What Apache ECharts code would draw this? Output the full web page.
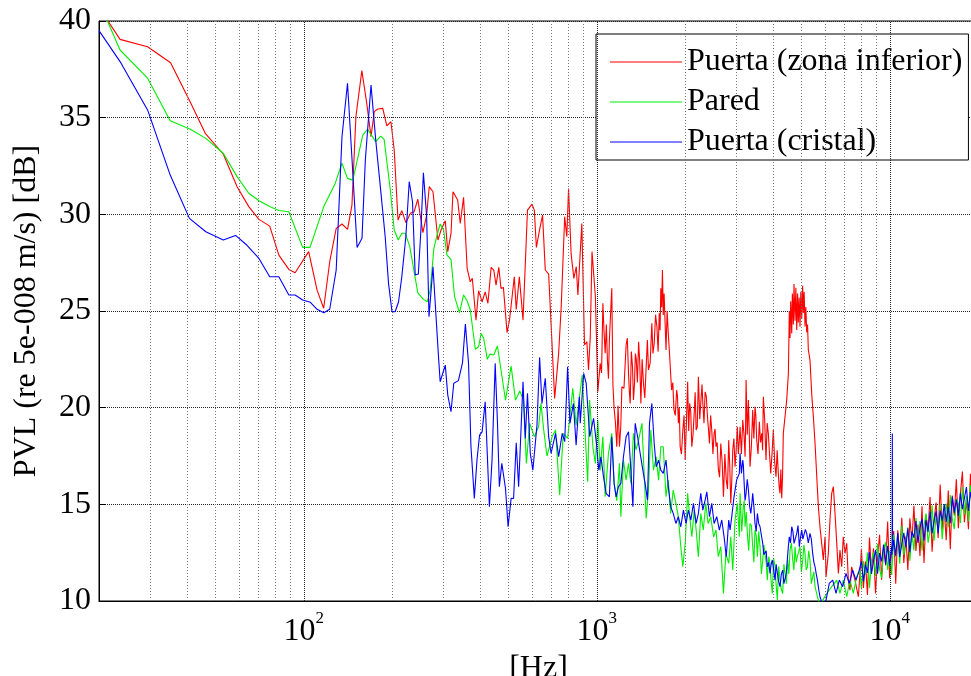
<!DOCTYPE html>
<html>
<head>
<meta charset="utf-8">
<script src="https://cdn.jsdelivr.net/npm/echarts@6/dist/echarts.min.js"></script>
<style>
html,body{margin:0;padding:0;background:#fff;}
#chart{width:971px;height:676px;}
</style>
</head>
<body>
<div id="chart"></div>
<script>
// ---- data (frequency in Hz, level in dB) ----
const seriesNames = ['Puerta (zona inferior)', 'Pared', 'Puerta (cristal)'];
const seriesColors = ['#ff0000', '#00ee00', '#0000ff'];

const redData = [
[20,40.7],[23.6,39.05],[29.3,38.67],[35.1,37.84],[41.0,35.8],[46.1,34.19],[53.1,33.12],[59.2,31.43],[64.9,30.40],[70.3,29.74],[76.5,29.39],[82.2,27.89],[88.9,27.15],[93.4,26.98],
[103.9,28.07],[111,26.08],[116.9,25.14],[122.6,27.55],[129,29.27],[135,29.50],[141,29.22],[146,30.48],[150.6,35.05],[157.8,37.43],[164,35.74],[169.6,34.02],[174,35.31],[178.8,35.45],[186,35.48],[192,34.57],[198.3,34.79],[203.5,33.33],[209.7,29.70],[216,30.19],[223,29.57],[231,30.05],[238,30.14],[245,30.78],[255,29.05],[262.6,29.96],[268,31.43],[276,31.17],[287,28.67],[294,29.19],
[304,29.67],[310,28.07],[318,29.02],[323,31.17],[335,30.74],[342,29.53],[351,30.88],[361,27.21],[370,26.51],[376,26.69],[387,24.53],[395,26.05],[406,25.48],[416,25.99],[425,25.40],[436,27.26],[445,27.12],[453,26.34],[463,27.26],[471,26.17],[480,26.22],[494,23.88],[504,24.57],[514,25.74],[523,26.77],[531,25.08],[544,26.77],[560,24.53],[580,30.22],[601,30.53],[612,30.22],[622,28.29],[636,29.10],[653,29.96],[667,27.12],[685,26.91],[718,20.48],[741,22.81],[756,25.22],[777,29.88],[790,28.84],[801,31.34],[817,27.98],[835,26.69],[851,27.29],[862,25.83],[889,29.53],[908,23.24],[925,23.41],[937,21.95],[950,23.67],
[963,28.07],[975,28.15],[989,25.74],[1008,20.82],[1027,22.29],[1049,25.40],[1068,22.81],[1087,22.46],[1104,23.50],[1125,26.17],[1146,19.96],[1170,17.98],[1195,17.98],[1218,21.08],[1259,23.24],[1283,21.77],[1300,20.22],[1324,22.12],[1345,21.26],[1363,22.55],[1389,23.41],[1414,20.22],[1443,21.26],[1474,22.12],[1501,21.95],[1541,24.36],[1570,23.32],[1604,24.19],[1634,24.88],[1654,26.17],[1675,27.12],[1697,25.91],[1723,22.98],[1754,23.84],[1800,20.91],[1834,19.88],[1873,20.91],[1898,19.19],[1925,17.98],[1966,18.84],[2003,17.29],[2042,21.34],[2075,20.22],[2110,17.98],[2150,19.71],[2183,18.84],[2222,21.60],[2271,20.56],[2301,20.22],[2343,20.82],[2386,19.53],[2424,18.15],[2468,18.84],[2514,18.67],[2552,17.98],[2598,16.86],[2650,18.15],[2706,15.39],[2766,16.25],[2820,18.32],[2866,15.05],[2911,17.81],[2964,16.94],[3017,19.01],[3065,18.32],
[3083,19.01],[3149,19.36],[3207,17.46],[3232,21.43],[3292,20.39],[3334,16.94],[3405,19.88],[3467,20.05],[3514,18.32],[3588,19.27],[3655,18.67],[3702,20.56],[3780,17.29],[3850,18.67],[3923,16.60],[4004,18.84],[4089,16.43],[4164,16.60],[4220,15.57],[4277,15.31],[4331,18.67],[4389,19.53],[4447,20.39],[4507,21.77],
[5341,22.46],[5413,20.74],[5484,19.53],[5558,18.15],[5633,16.43],[5704,14.88],[5777,13.84],[5855,12.98],[5931,12.12],[6012,13.32],[6059,11.25],[6169,12.46],[6249,14.19],[6334,15.57],[6417,15.91],[6503,14.53],[6591,12.98],[6676,11.43],[6760,12.63],[6852,11.77],[6939,13.32],[7033,12.46],[7128,12.98],[7219,11.08],[7312,10.56],[7411,11.77],[7607,11.08],[7810,10.22],[7953,11.94]
];
// dense strokes of the red curve (1-4.3 kHz and the 4.5-5.3 kHz peak)
const redDense = [
[1038,21.8],[1058,24.0],[1078,24.3],[1096,21.5],[1114,24.8],[1135,21.2],[1158,19.2],[1182,20.1],[1207,19.0],[1238,21.0],[1271,23.6],[1292,20.8],[1312,22.9],[1334,20.4],[1354,22.8],[1376,21.3],[1401,22.4],[1428,22.5],[1458,20.5],[1488,23.5],[1521,22.3],[1555,22.8],[1587,24.8],[1619,22.9],[1644,24.0],[1665,25.2],[1686,24.8],[1710,26.0],[1738,25.0],[1777,22.4],[1817,21.3],[1853,19.6],[1885,20.6],[1912,20.0],[1945,17.6],[1985,19.6],[2022,19.2],[2058,18.8],[2092,19.8],[2130,18.6],[2166,20.8],[2202,19.0],[2246,19.4],[2286,21.2],[2322,19.2],[2364,20.6],[2405,18.9],[2446,19.6],[2491,17.6],[2533,18.9],[2575,18.2],[2624,16.4],[2678,17.2],[2736,17.6],[2793,15.8],[2843,17.0],[2888,16.2],[2937,18.4],[2990,17.8],[3041,17.6],
[3116,17.6],[3180,18.6],[3220,19.0],[3262,18.6],[3313,18.8],[3370,18.0],[3436,18.4],[3490,19.6],[3550,17.6],[3620,18.2],[3680,17.8],[3740,19.4],[3815,19.2],[3886,17.6],[3963,17.6],[4046,17.2],[4126,17.8],[4192,15.9],[4248,16.8],[4304,16.4],
[4540,25.0],[4565,23.6],[4590,25.5],[4627,23.84],[4650,25.9],[4686,24.3],[4710,26.4],[4749,24.5],[4780,26.2],[4813,24.02],[4845,25.9],[4874,24.4],[4905,25.7],[4938,24.19],[4970,26.0],[5005,24.6],[5040,26.3],[5068,24.9],[5100,26.0],[5136,24.2],[5170,25.2],[5205,23.9],[5240,24.3],[5271,23.0]
];

const greenData = [
[20,41.0],[23.6,38.5],[29.3,37.04],[35,34.84],[41,34.4],[46.3,33.93],[53.1,33.16],[59.2,31.95],[64.9,31.09],[70.3,30.70],[76.5,30.4],[82.2,30.2],[88.9,30.13],[99.1,28.29],[105,28.29],
[117,30.40],[128,31.60],[135,32.64],[141,31.86],[147,31.77],[159,34.10],[165,34.40],[176,33.76],[183,34.05],[188,33.88],[197.4,31.26],[203.5,29.19],[210,28.67],[216,29.02],[222,29.02],[230,28.33],[245,25.94],[256,25.60],[264,25.48],[270,26.08],[278,28.24],[284,28.84],[292,29.50],[300,29.19],
[308,27.89],[318,27.67],[327,25.74],[340,24.91],[351,25.83],[361,25.53],[370,25.05],[385,23.02],[395,23.15],[403,23.84],[411,23.59],[423,22.50],[432,22.77],[445,22.72],[458,23.19],[471,21.95],[488,20.39],[510,22.15],[528,20.39],[546,20.86],[562,20.39],[575,17.12],[590,19.19],[612,18.50],[633,19.01],[645,20.22],[659,18.84],[676,17.50],[704,18.50],[723,18.84],[747,15.48],[768,18.67],[795,18.41],[828,21.0],[850,19.10],[874,20.65],[892,21.69],[910,19.01],[931,16.17],[945,20.39],
[971,17.89],[989,17.12],[1008,19.36],[1027,16.77],[1049,18.50],[1068,15.39],[1096,17.64],[1125,18.67],[1146,16.07],[1170,15.19],[1195,17.12],[1208,14.36],[1233,17.29],[1259,16.25],[1283,17.12],[1307,16.07],[1334,18.67],[1360,17.81],[1389,18.32],[1426,19.19],[1452,16.43],[1474,14.27],[1501,15.74],[1529,18.84],[1561,16.77],[1595,17.46],[1625,16.25],[1654,17.98],[1686,17.98],[1723,15.39],[1754,16.25],[1787,14.53],[1823,15.74],[1862,15.05],[1898,14.36],[1935,12.81],[1966,11.77],[2003,12.98],[2042,15.57],[2075,14.36],[2110,13.32],[2150,14.70],[2183,13.67],[2222,12.29],[2264,14.53],[2309,13.67],[2355,15.05],[2398,14.01],[2449,14.36],[2505,13.32],[2552,13.67],[2598,12.29],[2650,12.81],[2706,10.39],[2757,12.46],[2820,11.95],[2866,13.32],[2911,11.60],[2964,14.19],[3017,15.05],[3065,13.32],
[3083,15.57],[3163,14.88],[3207,13.84],[3265,13.50],[3334,14.01],[3405,12.81],[3467,13.67],[3532,12.29],[3607,12.81],[3684,12.12],[3750,12.46],[3820,11.08],[3901,11.94],[3972,10.39],[4058,11.77],[4133,10.05],[4220,11.08],[4310,10.39],[4389,11.43],[4482,12.12],[4565,12.63],[4664,12.12],[4749,12.81],[4836,12.29],[4938,12.81],[5046,12.12],[5136,12.46],[5233,11.77],[5341,12.12],[5455,11.25],[5558,10.74],[5662,10.22],[5777,9.8],[6091,10.39],[6334,10.74],[6591,11.08],[6760,10.39],[6939,11.08],[7128,10.22],[7312,11.08],[7508,10.39],[7709,11.25],[7909,11.6]
];
const greenDense = [
[3123,13.6],[3185,15.2],[3236,14.6],[3300,12.6],[3370,13.9],[3436,12.0],[3500,13.4],[3570,13.6],[3645,11.4],[3717,12.9],[3785,12.0],[3860,12.3],[3936,11.0],[4015,12.2],[4095,10.8],[4176,11.8],[4265,10.6],[4350,11.9],[4436,10.9],[4523,11.4],[4615,13.0],[4707,11.6],[4792,12.0],[4887,12.3],[4990,11.5],[5091,12.9],[5185,11.6],[5287,12.6],[5398,10.9],[5507,11.5],[5610,10.8]
];

const blueData = [
[20,39.5],[23.6,37.9],[29.3,35.40],[35,32.03],[40.7,29.79],[46.3,29.1],[53.1,28.67],[58.5,28.91],[64,28.40],[70.3,27.72],[76.5,26.77],[82.2,26.77],[88.9,25.83],[93.4,25.83],[99.1,25.57],[105.3,25.45],
[111,25.09],[117,24.91],[122.6,25.09],[129,27.12],[135,34.01],[141,36.78],[146,32.9],[152,28.29],[158,28.76],[162.2,32.81],[169.6,36.69],[176,33.84],[182,31.60],[189.6,28.84],[194.6,26.43],[200,24.96],[205,24.96],[210.6,25.48],[216,26.77],[223,28.84],[229,31.69],[235,30.65],[240,26.86],[246,26.91],[251,29.19],[256,32.15],[262.6,29.88],[267.5,24.70],[276,27.29],[279,27.2],[288.5,22.55],[292,21.34],
[304,22.20],[310,20.65],[318,19.79],[325,21.26],[337,21.40],[348,22.32],[356,24.33],[365,22.29],[372,17.98],[382,15.31],[390,17.29],[398,18.58],[406,18.75],[416,20.30],[430,14.88],[439,17.29],[450,22.29],[458,19.27],[465,15.91],[474,17.12],[488,15.82],[498,13.84],[510,15.31],[520,15.3],[531,18.19],[541,15.91],[560,21.34],[570,18.41],[580,20.74],[593,17.64],[605,16.77],[625,19.10],[638,22.60],[650,20.22],[667,21.52],[685,18.50],[698,17.64],[723,18.67],[741,17.46],[762,18.67],[777,18.24],[795,22.12],[810,19.19],[832,20.22],[850,18.06],[872,20.56],[878,19.19],[902,21.77],[920,21.26],[946,18.50],
[975,19.45],[997,18.15],[1016,16.77],[1033,17.46],[1054,16.43],[1076,15.57],[1104,15.39],[1125,18.50],[1146,16.07],[1164,15.39],[1185,15.91],[1208,16.08],[1233,17.46],[1259,18.50],[1283,18.75],[1307,16.77],[1328,14.88],[1352,19.19],[1378,18.50],[1406,17.64],[1436,16.77],[1462,16.08],[1489,15.22],[1513,19.19],[1541,20.22],[1570,18.15],[1595,16.94],[1625,17.29],[1654,16.77],[1686,16.60],[1723,17.29],[1754,15.91],[1787,14.88],[1823,14.53],[1862,14.01],[1898,14.36],[1935,13.84],[1975,14.70],[2017,14.01],[2054,14.70],[2094,14.19],[2137,15.05],[2183,14.01],[2222,14.53],[2264,15.57],[2301,14.70],[2343,15.22],[2374,15.65],[2424,14.36],[2468,15.05],[2514,14.01],[2567,14.36],[2620,13.67],[2670,14.19],[2719,13.32],[2766,12.29],[2820,14.19],[2850,13.67],[2888,14.36],[2940,15.39],[3000,16.25],[3065,16.60],
[3083,17.64],[3149,17.29],[3180,16.25],[3232,15.57],[3292,15.74],[3355,14.53],[3405,15.57],[3467,14.01],[3532,14.53],[3607,13.84],[3684,12.98],[3750,12.46],[3820,11.77],[3901,11.43],[3972,12.12],[4058,11.08],[4133,11.43],[4220,10.74],[4310,11.6],[4389,10.91],[4469,12.12],[4540,13.32],[4627,13.84],[4712,12.98],[4813,13.50],[4912,12.81],[5005,13.67],[5098,13.15],[5205,13.50],[5341,13.50],[5455,12.46],[5558,11.77],[5662,11.08],[5777,10.22],[5900,9.8],[6059,10.05],[6216,10.91],[6385,11.08],[6554,10.39],[6724,11.08],[6906,10.74],[7089,11.43],[7272,10.91],[7470,11.6],[7668,11.08],[7866,11.6]
];
const blueDense = [
[3116,16.6],[3165,17.0],[3206,15.2],[3262,16.3],[3323,14.9],[3380,15.0],[3436,14.9],[3500,13.6],[3570,14.0],[3645,13.4],[3717,12.4],[3785,12.6],[3860,12.0],[3936,11.9],[4015,11.6],[4095,11.9],[4176,11.0],[4265,11.4],[4350,10.9],[4430,11.4],[4505,12.8],[4583,13.0],[4670,13.6],[4762,13.0],[4862,13.9],[4958,13.3],[5050,13.2],[5150,13.7],[5270,13.0],[5398,13.2],[5507,12.0],[5610,11.4],[5720,10.6]
];

// high-frequency part (8 kHz - 20 kHz), dense noisy band
const hfFreqs = [8000,8128,8258,8390,8524,8660,8799,8940,9083,9228,9376,9526,9678,9833,9990,10150,10312,10477,10645,10815,10988,11164,11343,11524,11709,11896,12086,12280,12476,12676,12879,13085,13294,13507,13723,13942,14165,14392,14622,14856,15094,15335,15581,15830,16083,16341,16602,16868,17138,17412,17690,17973,18261,18553,18850,19152,19458,19770,20000];
const redHF = [12.70,10.67,12.04,10.31,13.28,11.55,12.72,10.39,12.26,13.43,11.10,12.87,11.84,14.11,11.18,12.65,13.62,10.89,13.66,12.43,14.30,11.97,13.34,11.61,14.28,13.05,14.92,12.59,13.96,12.33,14.90,11.97,14.44,13.71,15.38,12.55,14.22,15.09,13.26,16.03,13.70,14.77,13.14,15.71,12.68,15.45,14.42,16.29,13.76,15.53,16.70,14.07,15.24,13.71,16.58,14.65,16.32,14.29,16.06];
const greenHF = [10.60,12.07,11.34,12.51,10.68,12.05,12.52,11.29,12.96,11.63,11.20,12.67,13.04,11.61,12.58,11.35,13.42,12.29,13.26,11.93,13.90,12.37,13.04,13.81,12.08,13.55,12.62,14.29,13.16,14.13,12.60,13.87,14.54,13.01,13.68,14.95,13.12,14.49,13.66,15.03,13.20,14.47,15.04,13.81,15.48,14.25,13.72,15.29,15.06,14.03,15.90,14.47,15.44,14.11,15.98,15.05,15.92,14.69,16.36];
const blueHF = [12.05,11.02,11.89,11.46,12.53,11.40,12.07,12.64,11.41,12.48,12.05,12.92,11.89,12.86,11.83,12.80,13.17,12.34,13.51,12.28,12.95,13.52,12.79,13.76,12.53,13.60,13.27,14.14,13.01,13.78,14.25,13.12,14.19,13.56,14.63,13.50,14.17,14.64,13.51,14.68,14.15,15.02,14.09,14.86,14.03,15.40,14.57,15.24,14.41,15.58,14.75,15.32,15.89,14.66,15.63,15.00,16.07,15.34,16.01];
const blueSpike = [[10180,12.4],[10200,18.67],[10220,12.6]];

// axis ticks / grid positions
const xMin = 20, xMax = 20000;
const xMajorExps = [2, 3, 4];
const xMajorGrid = [100, 1000, 10000];
const xMinorGrid = [30,40,50,60,70,80,90,200,300,400,500,600,700,800,900,2000,3000,4000,5000,6000,7000,8000,9000];
const yMin = 10, yMax = 40, yStep = 5;
const yTitle = 'PVL (re 5e-008 m/s) [dB]';
const xTitle = '[Hz]';

const FONT = 'Liberation Serif';

function merge(base, dense, hf, extra) {
  const out = base.concat(dense, hfFreqs.map((f, i) => [f, hf[i]]), extra || []);
  out.sort((a, b) => a[0] - b[0]);
  return out;
}

const dataSets = [
  merge(redData, redDense, redHF),
  merge(greenData, greenDense, greenHF),
  merge(blueData, blueDense, blueHF, blueSpike)
];

const chart = echarts.init(document.getElementById('chart'), null, {renderer: 'canvas'});

const lineSeries = dataSets.map((d, i) => ({
  name: seriesNames[i],
  type: 'line',
  data: d,
  showSymbol: false,
  symbol: 'none',
  clip: true,
  z: 3 + i,
  lineStyle: {color: seriesColors[i], width: 1.1},
  itemStyle: {color: seriesColors[i]},
  emphasis: {disabled: true},
  animation: false
}));

function vLines(name, values, color, dash) {
  return {
    name: name,
    type: 'line',
    data: [],
    z: 1,
    silent: true,
    animation: false,
    markLine: {
      silent: true,
      animation: false,
      symbol: ['none', 'none'],
      label: {show: false},
      lineStyle: {color: color, width: 1, type: dash},
      emphasis: {disabled: true},
      data: values.map(f => ({xAxis: f}))
    }
  };
}

chart.setOption({
  animation: false,
  backgroundColor: '#ffffff',
  textStyle: {fontFamily: FONT},
  grid: {
    left: 99, right: -7, top: 21, bottom: 75,
    show: true, borderColor: '#000', borderWidth: 1,
    outerBoundsMode: 'none', containLabel: false
  },
  legend: {
    show: true,
    data: seriesNames.map(n => ({name: n, icon: 'rect'})),
    orient: 'vertical',
    left: 596, top: 34,
    padding: [12, 6, 2, 14],
    itemWidth: 72, itemHeight: 1,
    itemGap: 8,
    backgroundColor: '#fff',
    borderColor: '#000', borderWidth: 1,
    borderRadius: 0,
    selectedMode: false,
    textStyle: {fontFamily: FONT, fontSize: 32, color: '#000'}
  },
  xAxis: {
    type: 'log', logBase: 10, min: xMin, max: xMax,
    name: xTitle, nameLocation: 'middle', nameGap: 39,
    nameTextStyle: {fontFamily: FONT, fontSize: 32, color: '#000'},
    axisLine: {show: true, lineStyle: {color: '#000', width: 1}},
    axisTick: {show: false},
    minorTick: {show: false},
    splitLine: {show: false},
    axisLabel: {
      show: true, margin: 9, hideOverlap: false,
      formatter: function (v) {
        const e = Math.round(Math.log10(v));
        if (xMajorExps.indexOf(e) >= 0 && Math.abs(v - Math.pow(10, e)) < 1e-6 * v) {
          return '{b|10}{s|' + e + '}';
        }
        return '';
      },
      rich: {
        b: {fontFamily: FONT, fontSize: 32, color: '#000', lineHeight: 32, padding: [12, 0, 0, 0]},
        s: {fontFamily: FONT, fontSize: 17, color: '#000', lineHeight: 17, verticalAlign: 'top'}
      }
    }
  },
  yAxis: {
    type: 'value', min: yMin, max: yMax, interval: yStep,
    name: yTitle, nameLocation: 'middle', nameGap: 56,
    nameTextStyle: {fontFamily: FONT, fontSize: 32, color: '#000'},
    axisLine: {show: true, lineStyle: {color: '#000', width: 1}},
    axisTick: {show: true, inside: true, length: 7, lineStyle: {color: '#000'}},
    splitLine: {show: true, lineStyle: {color: '#222', width: 1, type: [1, 1]}},
    axisLabel: {fontFamily: FONT, fontSize: 32, color: '#000', margin: 8, padding: [6, 0, 0, 0]}
  },
  series: [
    vLines('minorGrid', xMinorGrid, '#777', [1, 2]),
    vLines('majorGrid', xMajorGrid, '#222', [1, 1])
  ].concat(lineSeries)
});
</script>
</body>
</html>
